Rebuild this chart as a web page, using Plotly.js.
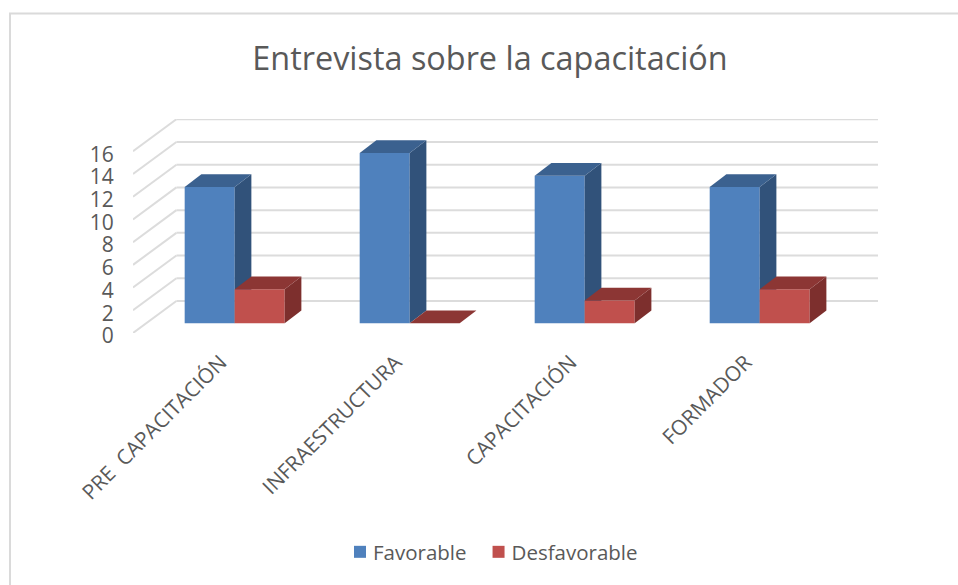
<!DOCTYPE html>
<html>
<head>
<meta charset="utf-8">
<script src="https://cdn.plot.ly/plotly-3.0.1.min.js"></script>
<style>html,body{margin:0;padding:0;background:#fff}#chart{width:958px;height:585px}</style>
</head>
<body>
<div id="chart"></div>
<script>
var categories = ['PRE \u00a0CAPACITACIÓN', 'INFRAESTRUCTURA', 'CAPACITACIÓN', 'FORMADOR'];
var favorable = [12, 15, 13, 12];
var desfavorable = [3, 0, 2, 3];
var yTicks = [0, 2, 4, 6, 8, 10, 12, 14, 16];

var W = 0.2857, DX = 0.0954, DY = 1.12, LIFT = 0.854;
var WALL_DX = 0.248, WALL_DY = 2.817;
var XMIN = -0.581, XMAX = 3.676, YMAX = 18.84;
var FONT = '"Open Sans", "Noto Sans", sans-serif';
var GREY = '#595959', GRID = '#DCDCDC';

function front(name, vals, color, offset, xa, ya) {
  return {type: 'bar', name: name, x: vals.map(function (v, i) { return i; }), y: vals,
    base: vals.map(function () { return LIFT; }), width: W, offset: offset,
    marker: {color: color, line: {width: 0}}, xaxis: xa, yaxis: ya, hoverinfo: 'y'};
}
function poly(xs, ys, color, xa, ya) {
  return {type: 'scatter', mode: 'lines', x: xs, y: ys, fill: 'toself', fillcolor: color,
    line: {width: 0, color: color}, showlegend: false, hoverinfo: 'skip', xaxis: xa, yaxis: ya};
}
function faces(vals, left, sideColor, topColor, xa, ya) {
  var out = [];
  vals.forEach(function (v, i) {
    var l = i + left, r = l + W, b = LIFT, t = LIFT + v;
    if (v > 0) {
      out.push(poly([r, r + DX, r + DX, r, r], [b, b + DY, t + DY, t, b], sideColor, xa, ya));
    }
    out.push(poly([l, l + DX, r + DX, r, l], [t, t + DY, t + DY, t, t], topColor, xa, ya));
  });
  return out;
}

var traces = [front('Favorable', favorable, '#4F81BD', -W, 'x', 'y')]
  .concat(faces(favorable, -W, '#31527A', '#3B618F', 'x', 'y'))
  .concat([front('Desfavorable', desfavorable, '#C0504D', 0, 'x2', 'y2')])
  .concat(faces(desfavorable, 0, '#7D2F2D', '#8C3634', 'x2', 'y2'));

var shapes = [];
yTicks.forEach(function (t) {
  var line = {color: GRID, width: 2};
  shapes.push({type: 'line', layer: 'below', xref: 'x', yref: 'y', x0: XMIN, x1: XMIN + WALL_DX,
    y0: t, y1: t + WALL_DY, line: line});
  shapes.push({type: 'line', layer: 'below', xref: 'x', yref: 'y', x0: XMIN + WALL_DX, x1: XMAX,
    y0: t + WALL_DY, y1: t + WALL_DY, line: line});
});
var pxX = function (p) { return (p - 133) / 745; };
var pxY = function (p) { return (333 - p) / 214; };
shapes.push({type: 'path', layer: 'below', xref: 'paper', yref: 'paper',
  path: 'M ' + pxX(10) + ' ' + pxY(590) + ' L ' + pxX(10) + ' ' + pxY(13.5) + ' L ' + pxX(965) + ' ' + pxY(13.5),
  line: {color: '#DADADA', width: 2}});

var layout = {
  width: 958, height: 585, autosize: false,
  paper_bgcolor: '#FFFFFF', plot_bgcolor: 'rgba(0,0,0,0)',
  margin: {l: 133, r: 80, t: 119, b: 252, pad: 0},
  font: {family: FONT, color: GREY},
  title: {text: 'Entrevista sobre la capacitación', font: {family: FONT, size: 32.4, color: GREY},
    x: 490 / 958, xanchor: 'center', xref: 'container',
    y: 1 - 59 / 585, yanchor: 'middle', yref: 'container'},
  barmode: 'overlay',
  showlegend: true,
  legend: {orientation: 'h', x: 488 / 958, xref: 'container', xanchor: 'center',
    y: 1 - 552 / 585, yref: 'container', yanchor: 'middle',
    font: {family: FONT, size: 20.5, color: GREY}, bgcolor: 'rgba(0,0,0,0)', itemwidth: 30, traceorder: 'normal'},
  xaxis: {range: [XMIN, XMAX], type: 'linear', tickmode: 'array',
    tickvals: categories.map(function (c, i) { return i - 0.08; }), ticktext: categories,
    tickangle: -45, ticks: 'outside', ticklen: 8, tickcolor: 'rgba(0,0,0,0)',
    showgrid: false, zeroline: false, showline: false, fixedrange: true,
    tickfont: {family: FONT, size: 20.8, color: GREY}},
  yaxis: {range: [0, YMAX], tickmode: 'array', tickvals: yTicks,
    ticktext: yTicks.map(String), ticks: 'outside', ticklen: 14, tickcolor: 'rgba(0,0,0,0)',
    ticklabelshift: 3,
    showgrid: false, zeroline: false, showline: false, fixedrange: true,
    tickfont: {family: FONT, size: 21, color: GREY}},
  xaxis2: {range: [XMIN, XMAX], overlaying: 'x', anchor: 'y2', visible: false, fixedrange: true},
  yaxis2: {range: [0, YMAX], overlaying: 'y', anchor: 'x2', visible: false, fixedrange: true},
  shapes: shapes
};
Plotly.newPlot('chart', traces, layout, {displayModeBar: false, responsive: false}).then(function () {
  document.querySelectorAll('.legend .legendpoints').forEach(function (g) {
    g.setAttribute('transform', 'translate(7,0)');
  });
});
</script>
</body>
</html>
